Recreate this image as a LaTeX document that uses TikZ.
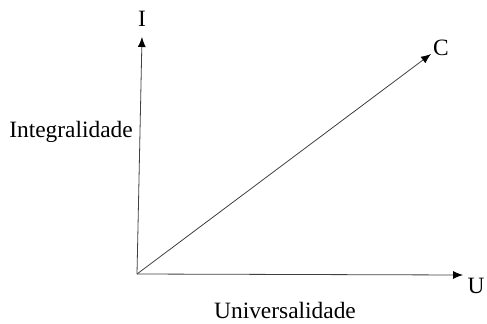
\documentclass[tikz,border=0pt]{standalone}
\usepackage{fontspec}
\setmainfont{Liberation Serif}
\usetikzlibrary{arrows.meta}
\begin{document}
\begin{tikzpicture}[x=1bp,y=1bp,
  axis/.style={draw=black!75,line width=0.8bp,-{Latex[length=10bp,width=8bp,black]}},
  lbl/.style={anchor=base,inner sep=0pt,font=\fontsize{23.5}{28}\selectfont}]
\useasboundingbox (0,0) rectangle (487,323);
\coordinate (O) at (137,49);
\coordinate (Itop) at (142,286);
\coordinate (Ctip) at (431,269);
\coordinate (Utip) at (463,48);
\draw[axis] (O) -- (Itop);
\draw[axis] (O) -- (Ctip);
\draw[axis] (O) -- (Utip);
\node[lbl] (I) at (142,296.5) {I};
\node[lbl] (C) at (441,268) {C};
\node[lbl] (U) at (476,30) {U};
\node[lbl] (integ) at (71,186) {Integralidade};
\node[lbl] (univ) at (285,5) {Universalidade};
\end{tikzpicture}
\end{document}
